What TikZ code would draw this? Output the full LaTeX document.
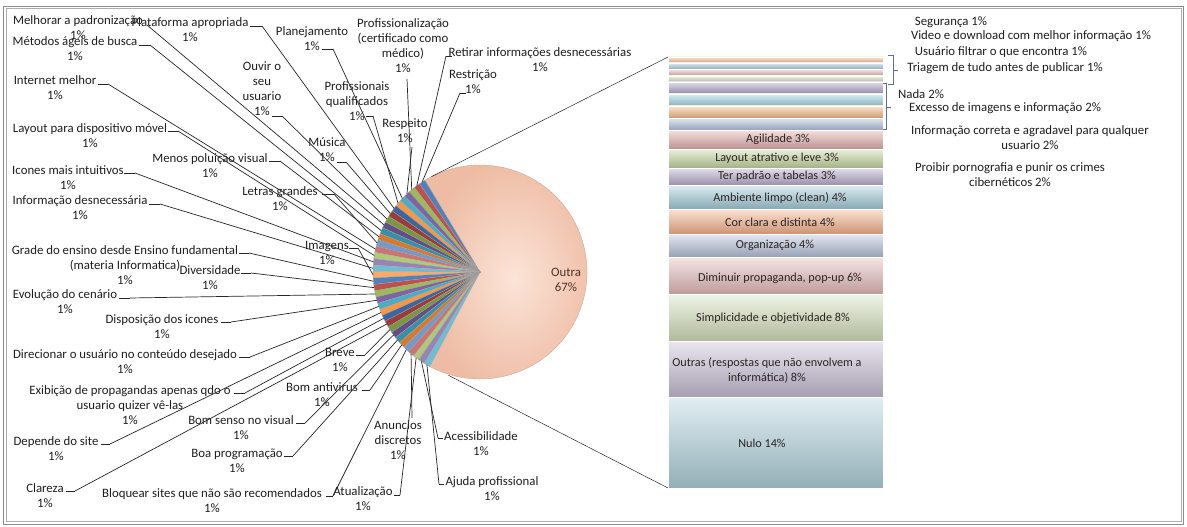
\documentclass[tikz,border=0pt]{standalone}
\usepackage{fontspec}
\setmainfont{Carlito}
\usetikzlibrary{calc}
\definecolor{txt}{RGB}{30,30,30}
\definecolor{bartxt}{RGB}{45,35,35}
\definecolor{frame}{RGB}{140,140,140}
\definecolor{outrain}{RGB}{252,228,216}
\definecolor{outraout}{RGB}{238,188,164}
\definecolor{outratxt}{RGB}{75,52,42}
\definecolor{brk}{RGB}{95,110,140}
% pie palette
\definecolor{pc0}{HTML}{4F81BD}\definecolor{pc1}{HTML}{C0504D}\definecolor{pc2}{HTML}{9BBB59}
\definecolor{pc3}{HTML}{8064A2}\definecolor{pc4}{HTML}{4BACC6}\definecolor{pc5}{HTML}{F79646}
\definecolor{pc6}{HTML}{3A67A0}\definecolor{pc7}{HTML}{9A3D3A}\definecolor{pc8}{HTML}{7A9640}
\definecolor{pc9}{HTML}{644E85}\definecolor{pc10}{HTML}{3690A8}\definecolor{pc11}{HTML}{D87A2E}
\definecolor{pc12}{HTML}{729ACA}\definecolor{pc13}{HTML}{CD7371}\definecolor{pc14}{HTML}{AFC97A}
\definecolor{pc15}{HTML}{9983B5}\definecolor{pc16}{HTML}{6FBDD1}\definecolor{pc17}{HTML}{F9AA66}
% bar palette
\definecolor{bA}{HTML}{F9BF8F}\definecolor{bB}{HTML}{A8CDE0}\definecolor{bC}{HTML}{E4B5B4}
\definecolor{bD}{HTML}{D3E0B6}\definecolor{bE}{HTML}{B5A6CB}\definecolor{bF}{HTML}{9FD6E4}
\definecolor{bG}{HTML}{F9BC8A}\definecolor{bH}{HTML}{B4C6E2}\definecolor{bI}{HTML}{E5B1B0}
\definecolor{bJ}{HTML}{C8D9A3}\definecolor{bK}{HTML}{B9ACCF}\definecolor{bL}{HTML}{A3CCDA}
\definecolor{bM}{HTML}{F8B48C}\definecolor{bN}{HTML}{B8C5DD}\definecolor{bO}{HTML}{E6BDBC}
\definecolor{bP}{HTML}{D5E2BC}\definecolor{bQ}{HTML}{C9C0D6}\definecolor{bR}{HTML}{B3D5E0}
\begin{document}
\begin{tikzpicture}[x=1pt,y=-1pt,
  lbl/.style={font=\fontsize{12.8}{15}\selectfont, text=txt, align=center, inner sep=0pt},
  blbl/.style={font=\fontsize{12.2}{15}\selectfont, text=bartxt, align=center, inner sep=0pt},
  lead/.style={draw=black!85, line width=0.7pt},
  band/.style={draw=white, line width=0.5pt}]
\useasboundingbox (0,0) rectangle (1187,527);
\fill[white] (0,0) rectangle (1187,527);
% frame
\draw[frame, line width=0.9pt] (3.5,6) rectangle (1183.5,524);
\draw[frame!70, line width=0.6pt] (6,8.5) rectangle (1181,521.5);

% pie
\begin{scope}[shift={(480,272)}, y=1pt]
  \shade[inner color=outrain, outer color=outraout, draw=outraout!85!black, line width=0.3pt]
    (0,0) -- (-119:107) arc[start angle=-119, end angle=121, radius=107] -- cycle;
  \foreach \i in {0,...,34} {
    \pgfmathsetmacro\a{121+3.457*\i}
    \pgfmathsetmacro\b{121+3.457*(\i+1)}
    \pgfmathtruncatemacro\k{mod(\i,18)}
    \fill[fill=pc\k, draw=black!35, line width=0.25pt]
      (0,0) -- (\a:107) arc[start angle=\a, end angle=\b, radius=107] -- cycle;
  }
  \foreach \i in {0,...,34} {
    \pgfmathsetmacro\m{121+3.457*(\i+0.5)}
    \coordinate (s\i) at (\m:107);
  }
  \coordinate (ptop) at (117:107);
  \coordinate (pbot) at (253:108);
\end{scope}
\node[lbl, text=outratxt] (outra) at (566,279.5) {Outra\\67\%};

% labels around the pie
\node[lbl] (L9)  at (78,27.5)  {Melhorar a padronização\\1\%};
\node[lbl] (L6)  at (190,30)   {Plataforma apropriada\\1\%};
\node[lbl] (L10) at (75,49)    {Métodos ágeis de busca\\1\%};
\node[lbl] (L13) at (55,87.5)  {Internet melhor\\1\%};
\node[lbl] (L8)  at (262,89)   {Ouvir o\\seu\\usuario\\1\%};
\node[lbl] (L4)  at (312,38.5) {Planejamento\\1\%};
\node[lbl] (L2)  at (403,46)   {Profissionalização\\(certificado como\\médico)\\1\%};
\node[lbl] (L1)  at (540,59.5) {Retirar informações desnecessárias\\1\%};
\node[lbl] (L0)  at (473,82)   {Restrição\\1\%};
\node[lbl] (L5)  at (357,101)  {Profissionais\\qualificados\\1\%};
\node[lbl] (L3)  at (405,130.5){Respeito\\1\%};
\node[lbl] (L7)  at (327,150)  {Música\\1\%};
\node[lbl] (L11) at (210,166)  {Menos poluição visual\\1\%};
\node[lbl] (L14) at (90,135.5) {Layout para dispositivo móvel\\1\%};
\node[lbl] (L15) at (68,177.5) {Icones mais intuitivos\\1\%};
\node[lbl] (L12) at (280,198.5){Letras grandes\\1\%};
\node[lbl] (L16) at (80,208)   {Informação desnecessária\\1\%};
\node[lbl] (L17) at (327,253)  {Imagens\\1\%};
\node[lbl] (L18) at (125,265)  {Grade do ensino desde Ensino fundamental\\(materia Informatica)\\1\%};
\node[lbl] (L19) at (210,278)  {Diversidade\\1\%};
\node[lbl] (L20) at (65,302)   {Evolução do cenário\\1\%};
\node[lbl] (L21) at (162,326.5){Disposição dos icones\\1\%};
\node[lbl] (L22) at (125,361.5){Direcionar o usuário no conteúdo desejado\\1\%};
\node[lbl] (L26) at (340,359.5){Breve\\1\%};
\node[lbl] (L24) at (130,405.5){Exibição de propagandas apenas qdo o\\usuario quizer vê-las\\1\%};
\node[lbl] (L29) at (322,394.5){Bom antivirus\\1\%};
\node[lbl] (L27) at (241,428)  {Bom senso no visual\\1\%};
\node[lbl] (L23) at (56,449)   {Depende do site\\1\%};
\node[lbl] (L28) at (237,460.5){Boa programação\\1\%};
\node[lbl] (L25) at (45,495.5) {Clareza\\1\%};
\node[lbl] (L30) at (212,500.5){Bloquear sites que não são recomendados\\1\%};
\node[lbl] (L32) at (363,499)  {Atualização\\1\%};
\node[lbl] (L31) at (398,440)  {Anuncios\\discretos\\1\%};
\node[lbl] (L33) at (481,444)  {Acessibilidade\\1\%};
\node[lbl] (L34) at (492,489)  {Ajuda profissional\\1\%};

% leader line anchors
\coordinate (k0) at (460,93);   \coordinate (k1) at (446,56);
\coordinate (k2) at (407,79);   \coordinate (k3) at (412,147);
\coordinate (k4) at (333,49);   \coordinate (k5) at (373,116);
\coordinate (k6) at (262,26);   \coordinate (k7) at (346,162);
\coordinate (k8) at (282,116);  \coordinate (k9) at (147,25);
\coordinate (k10) at (150,45);  \coordinate (k11) at (280,161);
\coordinate (k12) at (334,194); \coordinate (k13) at (108,84);
\coordinate (k14) at (178,131); \coordinate (k15) at (135,173);
\coordinate (k16) at (160,204); \coordinate (k17) at (358,248);
\coordinate (k18) at (249,253); \coordinate (k19) at (251,273);
\coordinate (k20) at (130,298); \coordinate (k21) at (231,322);
\coordinate (k22) at (250,357); \coordinate (k23) at (110,444);
\coordinate (k24) at (245,393); \coordinate (k25) at (75,491);
\coordinate (k26) at (365,355); \coordinate (k27) at (305,423);
\coordinate (k28) at (293,456); \coordinate (k29) at (370,390);
\coordinate (k30) at (333,496); \coordinate (k31) at (412,418);
\coordinate (k32) at (400,495); \coordinate (k33) at (438,438);
\coordinate (k34) at (439,484);
% ticks
\draw[lead] (k0) -- ++(6,0);   \draw[lead] (k1) -- ++(6,0);
\draw[lead] (k4) -- ++(-11,0); \draw[lead] (k5) -- ++(-7,0);
\draw[lead] (k6) -- ++(-12,0); \draw[lead] (k7) -- ++(-9,0);
\draw[lead] (k8) -- ++(-10,0); \draw[lead] (k10) -- ++(-11,0);
\draw[lead] (k11) -- ++(-11,0);\draw[lead] (k12) -- ++(-12,0);
\draw[lead] (k13) -- ++(-10,0);\draw[lead] (k14) -- ++(-10,0);
\draw[lead] (k15) -- ++(-11,0);\draw[lead] (k16) -- ++(-11,0);
\draw[lead] (k17) -- ++(-9,0); \draw[lead] (k18) -- ++(-10,0);
\draw[lead] (k19) -- ++(-10,0);\draw[lead] (k20) -- ++(-11,0);
\draw[lead] (k21) -- ++(-10,0);\draw[lead] (k22) -- ++(-11,0);
\draw[lead] (k23) -- ++(-9,0); \draw[lead] (k24) -- ++(-11,0);
\draw[lead] (k25) -- ++(-9,0); \draw[lead] (k26) -- ++(-9,0);
\draw[lead] (k27) -- ++(-9,0); \draw[lead] (k28) -- ++(-9,0);
\draw[lead] (k29) -- ++(-8,0); \draw[lead] (k30) -- ++(-7,0);
\draw[lead] (k32) -- ++(-6,0); \draw[lead] (k33) -- ++(5,0);
\draw[lead] (k34) -- ++(5,0);
% leaders
\draw[lead] (k0) -- (s0);   \draw[lead] (k1) -- (s1);
\draw[lead] (k2) -- (s2);   \draw[lead] (k3) -- (s3);
\draw[lead] (k4) -- (s4);   \draw[lead] (k5) -- (s5);
\draw[lead] (k6) -- (s6);   \draw[lead] (k7) -- (s7);
\draw[lead] (k8) -- (s8);   \draw[lead] (k9) -- (s9);
\draw[lead] (k10) -- (s10); \draw[lead] (k11) -- (s11);
\draw[lead] (k12) -- (s12); \draw[lead] (k13) -- (s13);
\draw[lead] (k14) -- (s14); \draw[lead] (k15) -- (s15);
\draw[lead] (k16) -- (s16); \draw[lead] (k17) -- (s17);
\draw[lead] (k18) -- (s18); \draw[lead] (k19) -- (s19);
\draw[lead] (k20) -- (s20); \draw[lead] (k21) -- (s21);
\draw[lead] (k22) -- (s22); \draw[lead] (k23) -- (s23);
\draw[lead] (k24) -- (s24); \draw[lead] (k25) -- (s25);
\draw[lead] (k26) -- (s26); \draw[lead] (k27) -- (s27);
\draw[lead] (k28) -- (s28); \draw[lead] (k29) -- (s29);
\draw[lead] (k30) -- (s30); \draw[lead] (k31) -- (s31);
\draw[lead] (k32) -- (s32); \draw[lead] (k33) -- (s33);
\draw[lead] (k34) -- (s34);

% stacked bar
\coordinate (bartl) at (668,57);
\coordinate (barbl) at (668,488);
\foreach \yt/\yb/\c in {57/63/bA,63/69.5/bB,69.5/76/bC,76/82/bD,82/94/bE,94/106/bF,106/118/bG,118/130/bH,
  130/149/bI,149/168/bJ,168/185.5/bK,185.5/209.5/bL,209.5/234/bM,234/257/bN,257/294.5/bO,
  294.5/341.5/bP,341.5/397.5/bQ,397.5/488/bR}
  \shade[band, top color=\c!40!white, middle color=\c, bottom color=\c!82!black]
    (668,\yt) rectangle (883,\yb);
\draw[lead, line width=0.5pt] (ptop) -- (bartl);
\draw[lead, line width=0.5pt] (pbot) -- (barbl);

\node[blbl] (agil) at (778,139)  {Agilidade 3\%};
\node[blbl] (layo) at (777,158)  {Layout atrativo e leve 3\%};
\node[blbl] (terp) at (777,176)  {Ter padrão e tabelas 3\%};
\node[blbl] (ambi) at (780,198)  {Ambiente limpo (clean) 4\%};
\node[blbl] (corc) at (780,222)  {Cor clara e distinta 4\%};
\node[blbl] (orga) at (775,245)  {Organização 4\%};
\node[blbl] (dimi) at (780,278)  {Diminuir propaganda, pop-up 6\%};
\node[blbl] (simp) at (773,318)  {Simplicidade e objetividade 8\%};
\node[blbl] (outr) at (767,370)  {Outras (respostas que não envolvem a\\informática) 8\%};
\node[blbl] (nulo) at (762,443)  {Nulo 14\%};

% brackets
\draw[brk, line width=0.6pt] (888,55) -- (893,55) -- (893,84) -- (888,84);
\draw[brk, line width=0.6pt] (893,70) -- (898,70);
\draw[brk, line width=0.6pt] (883,83) -- (886,83) -- (886,129) -- (883,129);
\draw[brk, line width=0.6pt] (886,107) -- (891,107);

% right-hand labels
\node[lbl] (segu) at (951,22)   {Segurança 1\%};
\node[lbl] (vide) at (1031,36)  {Video e download com melhor informação 1\%};
\node[lbl] (usuf) at (1001,52)  {Usuário filtrar o que encontra 1\%};
\node[lbl] (tria) at (1005,68)  {Triagem de tudo antes de publicar 1\%};
\node[lbl] (nada) at (921,94)   {Nada 2\%};
\node[lbl] (exce) at (1005,108) {Excesso de imagens e informação 2\%};
\node[lbl] (infc) at (1030,137.5) {Informação correta e agradavel para qualquer\\usuario 2\%};
\node[lbl] (proi) at (1010,174.5) {Proibir pornografia e punir os crimes\\cibernéticos 2\%};
\end{tikzpicture}
\end{document}
